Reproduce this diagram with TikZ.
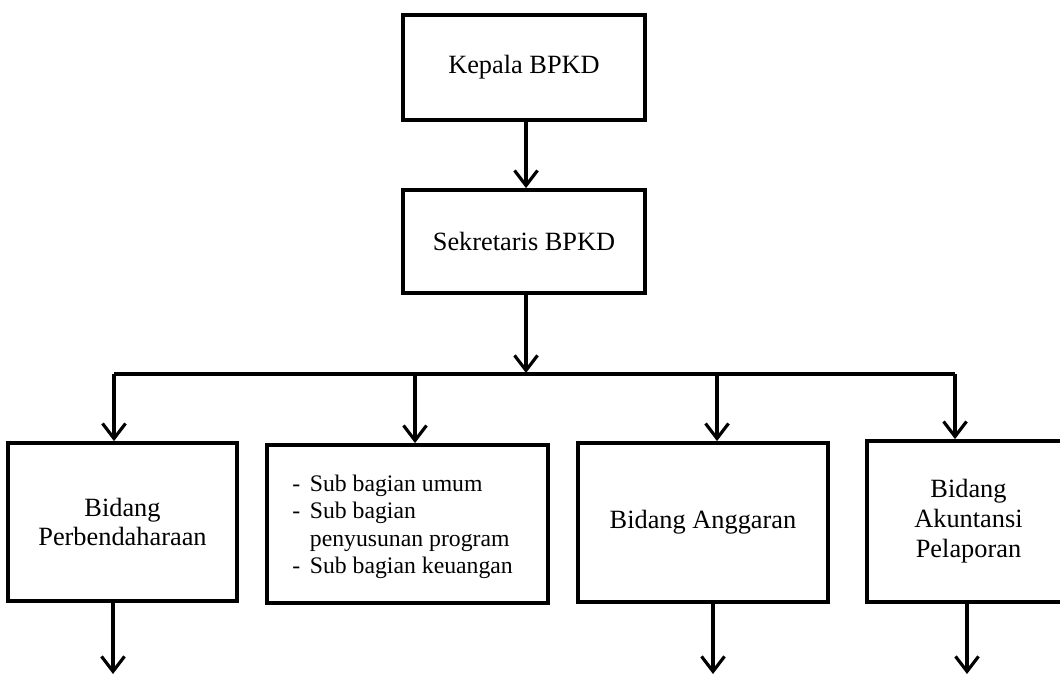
\documentclass[tikz,border=0pt]{standalone}
\usepackage{fontspec}
\setmainfont{Liberation Serif}
\usetikzlibrary{arrows.meta}

\tikzset{
  unitbox/.style={draw,line width=2.2pt,align=center,inner sep=0pt,
    font=\fontsize{15}{17}\selectfont},
  link/.style={line width=1.8pt},
  linkarrow/.style={link,-{Straight Barb[length=0.3cm,width=0.46cm,line width=1.8pt]}}
}

\begin{document}
\begin{tikzpicture}[x=0.02cm,y=-0.02cm]
\useasboundingbox (0,0) rectangle (1060,675);
\clip (0,0) rectangle (1060,675);

% Boxes
\node[unitbox,minimum width=4.84cm,minimum height=2.1cm] (kepala) at (524,67.5) {Kepala BPKD};
\node[unitbox,minimum width=4.84cm,minimum height=2.06cm] (sekretaris) at (524,241.5) {Sekretaris BPKD};
\node[unitbox,minimum width=4.58cm,minimum height=3.16cm] (perbendaharaan) at (122.5,522) {Bidang\\Perbendaharaan};
\node[unitbox,minimum width=5.62cm,minimum height=3.16cm] (subbagian) at (407.5,524) {};
\node[anchor=west,inner sep=0pt,font=\fontsize{13.5}{15.7}\selectfont] (subteks) at (292,527)
  {\begin{tabular}{@{}l@{\hspace{5.5pt}}l@{}}
   - & Sub bagian umum\\
   - & Sub bagian\\
     & penyusunan program\\
   - & Sub bagian keuangan
   \end{tabular}};
\node[unitbox,minimum width=5.0cm,minimum height=3.18cm] (anggaran) at (703,522.5) {Bidang Anggaran};
\node[unitbox,minimum width=4.06cm,minimum height=3.22cm,text width=3.4cm] (akuntansi) at (968.5,521.5) {Bidang\\Akuntansi\\Pelaporan};

% Bus
\coordinate (bus) at (526,373);
\coordinate (busL) at (114,374);
\coordinate (bus2) at (415,374);
\coordinate (bus3) at (717,374);
\coordinate (busR) at (955,374);
\draw[link] (busL) -- (busR);

% Arrows
\draw[linkarrow] (kepala.south -| bus) -- (sekretaris.north -| bus);
\draw[linkarrow] (sekretaris.south -| bus) -- (bus);
\draw[linkarrow] (busL) -- (busL |- perbendaharaan.north);
\draw[linkarrow] (bus2) -- (bus2 |- subbagian.north);
\draw[linkarrow] (bus3) -- (bus3 |- anggaran.north);
\draw[linkarrow] (busR) -- (busR |- akuntansi.north);

% Outgoing
\coordinate (out1) at (113,674);
\coordinate (out3) at (713,674);
\coordinate (out4) at (967,674);
\draw[linkarrow] (out1 |- perbendaharaan.south) -- (out1);
\draw[linkarrow] (out3 |- anggaran.south) -- (out3);
\draw[linkarrow] (out4 |- akuntansi.south) -- (out4);
\end{tikzpicture}
\end{document}
